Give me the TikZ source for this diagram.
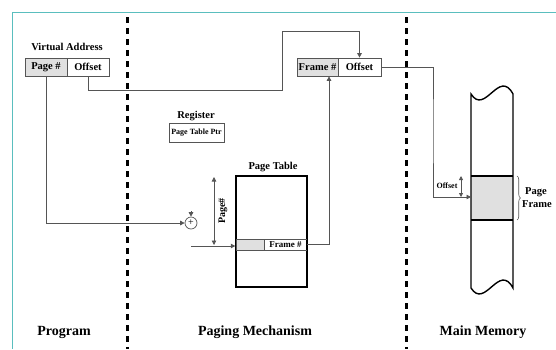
\documentclass[tikz,border=0pt]{standalone}
\usepackage{fontspec}
\setmainfont{Liberation Serif}
\usetikzlibrary{arrows.meta,decorations.pathreplacing}
\definecolor{frameteal}{RGB}{90,190,190}
\definecolor{cellgray}{RGB}{224,224,224}
\definecolor{linegray}{RGB}{85,85,85}
\tikzset{
  lbl/.style={font=\fontsize{10.5}{12}\selectfont\bfseries, inner sep=0pt},
  biglbl/.style={font=\fontsize{14}{16}\selectfont\bfseries, inner sep=0pt},
  cell/.style={draw=linegray, line width=0.7pt, minimum height=18pt, inner sep=0pt, font=\fontsize{10.5}{12}\selectfont\bfseries},
  conn/.style={draw=linegray, line width=0.8pt},
  tip/.style={-{Triangle[length=4.5pt,width=4.5pt]}},
  divider/.style={line width=3pt, dash pattern=on 6pt off 5pt},
  thickline/.style={line width=1.4pt}
}
\begin{document}
\begin{tikzpicture}[x=1pt,y=-1pt]
\useasboundingbox (0,0) rectangle (556,349);
% frame
\draw[frameteal, line width=0.8pt] (12,349) -- (12,12) -- (556,12);
% dividers
\draw[divider] (127,17) -- (127,349);
\draw[divider] (406,17) -- (406,349);

% virtual address
\node[lbl] (valbl) at (67,47) {Virtual Address};
\node[cell, fill=cellgray, minimum width=42pt] (vapg) at (46,67) {Page \#};
\node[cell, minimum width=42pt] (vaoff) at (88,67) {Offset};

% physical address
\node[cell, fill=cellgray, minimum width=41pt] (frfn) at (317.5,67) {Frame \#};
\node[cell, minimum width=43pt] (froff) at (359.5,67) {Offset};

% register
\node[lbl] (reglbl) at (196,116) {Register};
\node[draw=linegray, line width=0.7pt, minimum width=55pt, minimum height=19pt, inner sep=0pt,
      font=\fontsize{8}{9}\selectfont\bfseries] (ptr) at (196.5,132.5) {Page Table Ptr};

% adder
\node[draw=linegray, line width=0.7pt, circle, minimum size=12pt, inner sep=0pt,
      font=\fontsize{10}{10}\selectfont] (plus) at (191,223) {+};
\coordinate (plustop) at (191,211);

% page table
\node[lbl] (ptlbl) at (273,167) {Page Table};
\node[draw, thickline, minimum width=71pt, minimum height=111pt, inner sep=0pt] (pt) at (271.5,231.5) {};
\node[draw=linegray, fill=cellgray, line width=0.7pt, minimum width=28pt, minimum height=11pt, inner sep=0pt] (ptrow) at (250,244.5) {};
\node[draw=linegray, line width=0.7pt, minimum width=43pt, minimum height=11pt, inner sep=0pt,
      font=\fontsize{9}{10}\selectfont\bfseries] (ptfn) at (285.5,244.5) {Frame \#};
\draw[thickline] (pt.north west) rectangle (pt.south east);
\coordinate (rowin) at (191,246);

% page# span
\coordinate (pgtop) at (214,177);
\coordinate (pgbot) at (214,245);
\draw[conn, {Triangle[length=4.5pt,width=4.5pt]}-{Triangle[length=4.5pt,width=4.5pt]}] (pgtop) -- (pgbot);
\node[rotate=90, font=\fontsize{10}{11}\selectfont\bfseries, inner sep=0pt] (pglbl) at (223,211) {Page\#};

% main memory
\fill[cellgray] (471,176) rectangle (513,220);
\draw[thickline] (471,176) -- (513,176);
\draw[thickline] (471,220) -- (513,220);
\draw[thickline] (471,94) .. controls (485,116) and (499,68) .. (513,94)
   -- (513,288) .. controls (499,262) and (485,310) .. (471,288) -- cycle;
\coordinate (memin) at (471,197);
\coordinate (offtop) at (461,176);
\draw[conn, {Triangle[length=4pt,width=4pt]}-{Triangle[length=4pt,width=4pt]}] (offtop) -- (461,197);
\node[font=\fontsize{8}{9}\selectfont\bfseries, inner sep=0pt] (offlbl) at (447,186) {Offset};
\draw[linegray, line width=0.6pt, decorate, decoration={brace, amplitude=3.5pt}]
   (517,176) -- (517,220);
\node[lbl] (pflbl1) at (536,192) {Page};
\node[lbl] (pflbl2) at (537,204) {Frame};

% connectors
\draw[conn, tip] (vaoff.south) -- ++(0,14) -| (282,31) -| (froff.north);
\draw[conn, tip] (vapg.south) |- (plus.west);
\draw[conn, tip] (plustop) -- (plus.north);
\draw[conn, tip] (rowin) -- (rowin -| pt.west);
\draw[conn, tip] (ptfn.east) -| ([xshift=11.5pt]frfn.south);
\draw[conn, tip] (froff.east) -| (433,130) |- (memin);

% section labels
\node[biglbl] (prog) at (64,332) {Program};
\node[biglbl] (pm) at (255,332) {Paging Mechanism};
\node[biglbl] (mm) at (483,332) {Main Memory};
\end{tikzpicture}
\end{document}
